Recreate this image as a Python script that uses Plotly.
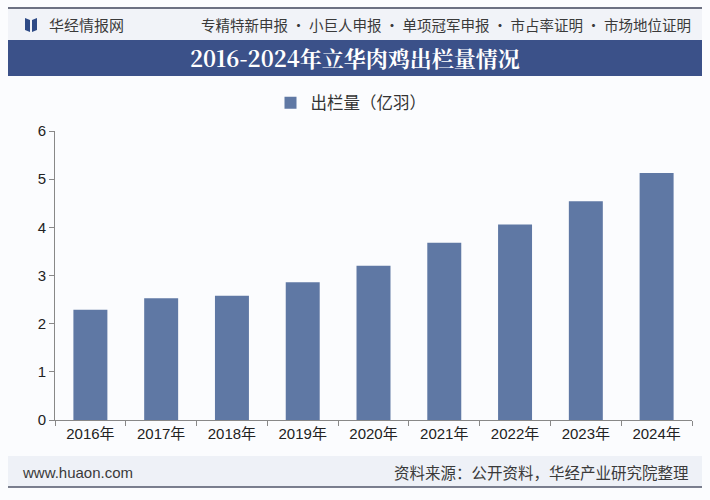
import plotly.graph_objects as go

years = ["2016年", "2017年", "2018年", "2019年", "2020年", "2021年", "2022年", "2023年", "2024年"]
output = [2.29, 2.53, 2.58, 2.86, 3.20, 3.68, 4.06, 4.54, 5.13]
series_name = "出栏量（亿羽）"

title = "2016-2024年立华肉鸡出栏量情况"
header_left = "华经情报网"
header_right = "专精特新申报 · 小巨人申报 · 单项冠军申报 · 市占率证明 · 市场地位证明"
footer_left = "www.huaon.com"
footer_right = "资料来源：公开资料，华经产业研究院整理"

W, H = 710, 500
L, R, T, B = 55, 18, 131, 80
PW, PH = W - L - R, H - T - B


def px(x):
    return (x - L) / PW


def py(y):
    return (H - B - y) / PH


CJK = "Noto Sans CJK SC, Liberation Sans, sans-serif"
TICK = "Liberation Sans, Noto Sans CJK SC, sans-serif"

fig = go.Figure(go.Bar(
    x=years, y=output, name=series_name,
    marker=dict(color="#5f78a4", line=dict(width=0)),
    width=0.48,
))

shapes = [
    # header band and lines
    dict(type="rect", xref="paper", yref="paper", x0=px(8), x1=px(702), y0=py(40), y1=py(9),
         fillcolor="#f1f3f8", line=dict(width=0), layer="below"),
    dict(type="line", xref="paper", yref="paper", x0=px(8), x1=px(702), y0=py(8), y1=py(8),
         line=dict(color="#3c4358", width=1.5)),
    # title bar
    dict(type="rect", xref="paper", yref="paper", x0=px(8), x1=px(702), y0=py(76), y1=py(40),
         fillcolor="#3b5189", line=dict(width=0)),
    # footer band and line
    dict(type="rect", xref="paper", yref="paper", x0=px(8), x1=px(702), y0=py(487), y1=py(456),
         fillcolor="#eef1f7", line=dict(width=0), layer="below"),
    dict(type="line", xref="paper", yref="paper", x0=px(8), x1=px(702), y0=py(487), y1=py(487),
         line=dict(color="#50566a", width=1.5)),
    # logo
    dict(type="path", xref="paper", yref="paper",
         path=f"M {px(25)} {py(18)} L {px(30)} {py(20)} L {px(30)} {py(32)} L {px(25)} {py(30)} Z",
         fillcolor="#2e4a86", line=dict(width=0)),
    dict(type="path", xref="paper", yref="paper",
         path=f"M {px(32)} {py(20)} L {px(37)} {py(18)} L {px(37)} {py(30)} L {px(32)} {py(32)} Z",
         fillcolor="#2e4a86", line=dict(width=0)),
]

annotations = [
    dict(text=header_left, xref="paper", yref="paper", x=px(47), y=py(25), xanchor="left",
         yanchor="middle", showarrow=False, font=dict(family=CJK, size=15, color="#3a3a3a")),
    dict(text=header_right, xref="paper", yref="paper", x=px(693), y=py(25), xanchor="right",
         yanchor="middle", showarrow=False, font=dict(family=CJK, size=14.5, color="#3a3a3a")),
    dict(text="<b>" + title + "</b>", xref="paper", yref="paper", x=px(355), y=py(58),
         xanchor="center", yanchor="middle", showarrow=False,
         font=dict(family="Noto Serif CJK SC, Noto Sans CJK SC, serif", size=22, color="white")),
    dict(text=footer_left, xref="paper", yref="paper", x=px(20), y=py(472), xanchor="left",
         yanchor="middle", showarrow=False, font=dict(family=TICK, size=15, color="#3a3a3a")),
    dict(text=footer_right, xref="paper", yref="paper", x=px(691), y=py(472), xanchor="right",
         yanchor="middle", showarrow=False, font=dict(family=CJK, size=15.5, color="#3a3a3a")),
]

fig.update_layout(
    width=W, height=H,
    margin=dict(l=L, r=R, t=T, b=B),
    paper_bgcolor="#fbfcfe",
    plot_bgcolor="rgba(0,0,0,0)",
    showlegend=True,
    legend=dict(orientation="h", x=px(351), xanchor="center", y=py(103), yanchor="middle",
                font=dict(family=CJK, size=16.5, color="#333333"), bgcolor="rgba(0,0,0,0)",
                itemwidth=30),
    shapes=shapes,
    annotations=annotations,
    bargap=0.52,
)

fig.update_xaxes(
    type="category", tickson="boundaries", ticks="outside", ticklen=5, tickcolor="#888888",
    showline=True, linecolor="#888888", linewidth=1, showgrid=False,
    tickfont=dict(family=TICK, size=15, color="#222222"),
)
fig.update_yaxes(
    range=[0, 6], dtick=1, ticks="outside", ticklen=5, tickcolor="#888888",
    showline=True, linecolor="#888888", linewidth=1, showgrid=False, zeroline=False,
    tickfont=dict(family=TICK, size=15, color="#222222"),
)

fig.write_html("out.html", config={"displayModeBar": False},
               post_script="document.body.style.margin='0';")
